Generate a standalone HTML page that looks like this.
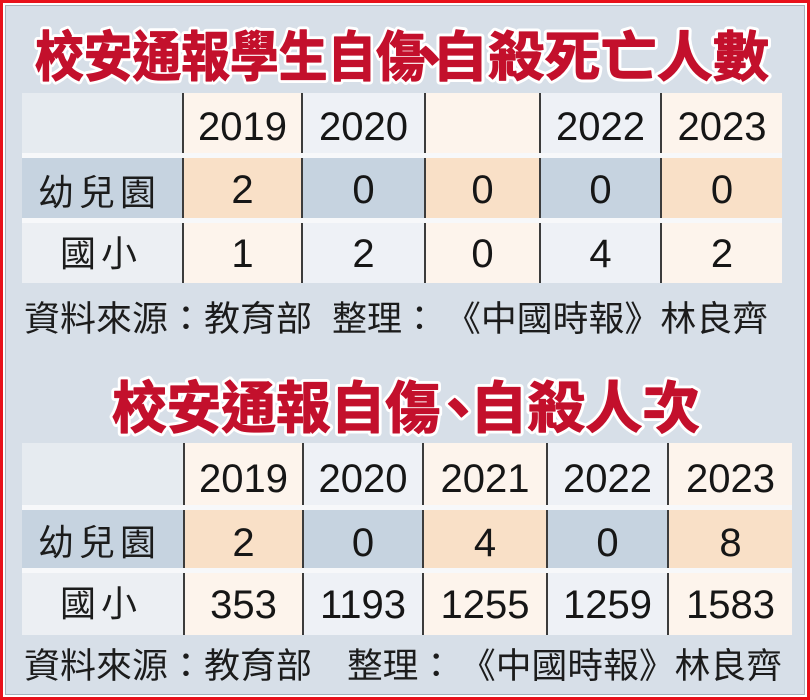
<!DOCTYPE html>
<html>
<head>
<meta charset="utf-8">
<style>
html,body{margin:0;padding:0;background:#fff;}
body{width:810px;height:700px;overflow:hidden;position:relative;}
svg{position:absolute;left:0;top:0;}
.num{font-family:"Liberation Sans",sans-serif;font-size:40px;fill:#161616;text-anchor:middle;}
.lab{font-family:"Noto Sans CJK TC","Noto Sans CJK JP",sans-serif;font-size:36px;fill:#1c1c1c;letter-spacing:5px;}
.foot{font-family:"Noto Sans CJK TC","Noto Sans CJK JP",sans-serif;font-size:35px;fill:#1c1c1c;}
.tw{font-family:"Noto Sans CJK TC","Noto Sans CJK JP",sans-serif;font-weight:700;fill:none;stroke:#ffffff;stroke-width:7;stroke-linejoin:round;}
.tr{font-family:"Noto Sans CJK TC","Noto Sans CJK JP",sans-serif;font-weight:700;fill:#c3102c;stroke:#c3102c;stroke-width:1.2;stroke-linejoin:round;}
</style>
</head>
<body>
<svg width="810" height="700" viewBox="0 0 810 700" xmlns="http://www.w3.org/2000/svg">
  <rect x="0" y="0" width="810" height="700" fill="#e8111b"/>
  <rect x="3" y="3" width="804" height="694" fill="#ffffff"/>
  <rect x="5" y="5" width="800" height="690" fill="#a7b0ba"/>
  <rect x="6" y="6" width="798" height="688" fill="#d7dfe8"/>

  <!-- ===== Title 1 ===== -->
  <g font-size="54">
    <text class="tw" x="35" y="76" textLength="390" lengthAdjust="spacingAndGlyphs">校安通報學生自傷</text>
    <text class="tw" x="429" y="78" text-anchor="middle" font-size="60">、</text>
    <text class="tw" x="432" y="76" textLength="337" lengthAdjust="spacingAndGlyphs">自殺死亡人數</text>
    <text class="tr" x="35" y="76" textLength="390" lengthAdjust="spacingAndGlyphs">校安通報學生自傷</text>
    <text class="tr" x="429" y="78" text-anchor="middle" font-size="60">、</text>
    <text class="tr" x="432" y="76" textLength="337" lengthAdjust="spacingAndGlyphs">自殺死亡人數</text>
  </g>

  <!-- ===== Table 1 ===== -->
  <rect x="22" y="153" width="760" height="5" fill="#f7f8fa"/>
  <rect x="22" y="218" width="760" height="5" fill="#f7f8fa"/>
  <rect x="22" y="93" width="160" height="60" fill="#e6ebf0"/>
  <rect x="184" y="93" width="117" height="60" fill="#fdf4ec"/>
  <rect x="303" y="93" width="121" height="60" fill="#eef1f6"/>
  <rect x="426" y="93" width="113" height="60" fill="#fdf4ec"/>
  <rect x="541" y="93" width="119" height="60" fill="#eef1f6"/>
  <rect x="662" y="93" width="120" height="60" fill="#fdf4ec"/>
  <rect x="22" y="158" width="160" height="60" fill="#c6d3e0"/>
  <rect x="184" y="158" width="117" height="60" fill="#f9e0c7"/>
  <rect x="303" y="158" width="121" height="60" fill="#c6d3e0"/>
  <rect x="426" y="158" width="113" height="60" fill="#f9e0c7"/>
  <rect x="541" y="158" width="119" height="60" fill="#c6d3e0"/>
  <rect x="662" y="158" width="120" height="60" fill="#f9e0c7"/>
  <rect x="22" y="223" width="160" height="60" fill="#eceff3"/>
  <rect x="184" y="223" width="117" height="60" fill="#fdf4ec"/>
  <rect x="303" y="223" width="121" height="60" fill="#eef1f6"/>
  <rect x="426" y="223" width="113" height="60" fill="#fdf4ec"/>
  <rect x="541" y="223" width="119" height="60" fill="#eef1f6"/>
  <rect x="662" y="223" width="120" height="60" fill="#fdf4ec"/>
  <g fill="#3c3c3c">
    <rect x="182" y="93" width="2" height="60"/><rect x="182" y="158" width="2" height="60"/><rect x="182" y="223" width="2" height="60"/>
    <rect x="301" y="93" width="2" height="60"/><rect x="301" y="158" width="2" height="60"/><rect x="301" y="223" width="2" height="60"/>
    <rect x="424" y="93" width="2" height="60"/><rect x="424" y="158" width="2" height="60"/><rect x="424" y="223" width="2" height="60"/>
    <rect x="539" y="93" width="2" height="60"/><rect x="539" y="158" width="2" height="60"/><rect x="539" y="223" width="2" height="60"/>
    <rect x="660" y="93" width="2" height="60"/><rect x="660" y="158" width="2" height="60"/><rect x="660" y="223" width="2" height="60"/>
  </g>
  <text class="num" x="242.5" y="140">2019</text>
  <text class="num" x="363.5" y="140">2020</text>
  <text class="num" x="600.5" y="140">2022</text>
  <text class="num" x="722" y="140">2023</text>
  <text class="lab" x="38" y="205">幼兒園</text>
  <text class="num" x="242.5" y="203">2</text>
  <text class="num" x="363.5" y="203">0</text>
  <text class="num" x="482.5" y="203">0</text>
  <text class="num" x="600.5" y="203">0</text>
  <text class="num" x="722" y="203">0</text>
  <text class="lab" x="60" y="266">國小</text>
  <text class="num" x="242.5" y="267">1</text>
  <text class="num" x="363.5" y="267">2</text>
  <text class="num" x="482.5" y="267">0</text>
  <text class="num" x="600.5" y="267">4</text>
  <text class="num" x="722" y="267">2</text>

  <text class="foot" x="24" y="331" textLength="288" lengthAdjust="spacingAndGlyphs">資料來源：教育部</text>
  <text class="foot" x="332" y="331" textLength="105" lengthAdjust="spacingAndGlyphs">整理：</text>
  <text class="foot" x="445" y="331" textLength="323" lengthAdjust="spacingAndGlyphs">《中國時報》林良齊</text>

  <!-- ===== Title 2 ===== -->
  <g font-size="56">
    <text class="tw" x="112" y="428" textLength="328" lengthAdjust="spacingAndGlyphs">校安通報自傷</text>
    <text class="tw" x="458" y="430" text-anchor="middle" font-size="60">、</text>
    <text class="tw" x="470" y="428" textLength="230" lengthAdjust="spacingAndGlyphs">自殺人次</text>
    <text class="tr" x="112" y="428" textLength="328" lengthAdjust="spacingAndGlyphs">校安通報自傷</text>
    <text class="tr" x="458" y="430" text-anchor="middle" font-size="60">、</text>
    <text class="tr" x="470" y="428" textLength="230" lengthAdjust="spacingAndGlyphs">自殺人次</text>
  </g>

  <!-- ===== Table 2 ===== -->
  <rect x="22" y="505" width="770" height="5" fill="#f7f8fa"/>
  <rect x="22" y="568" width="770" height="5" fill="#f7f8fa"/>
  <rect x="22" y="443" width="161" height="62" fill="#e6ebf0"/>
  <rect x="185" y="443" width="117" height="62" fill="#fdf4ec"/>
  <rect x="304" y="443" width="118" height="62" fill="#eef1f6"/>
  <rect x="424" y="443" width="122" height="62" fill="#fdf4ec"/>
  <rect x="548" y="443" width="119" height="62" fill="#eef1f6"/>
  <rect x="669" y="443" width="123" height="62" fill="#fdf4ec"/>
  <rect x="22" y="510" width="161" height="58" fill="#c6d3e0"/>
  <rect x="185" y="510" width="117" height="58" fill="#f9e0c7"/>
  <rect x="304" y="510" width="118" height="58" fill="#c6d3e0"/>
  <rect x="424" y="510" width="122" height="58" fill="#f9e0c7"/>
  <rect x="548" y="510" width="119" height="58" fill="#c6d3e0"/>
  <rect x="669" y="510" width="123" height="58" fill="#f9e0c7"/>
  <rect x="22" y="573" width="161" height="62" fill="#eceff3"/>
  <rect x="185" y="573" width="117" height="62" fill="#fdf4ec"/>
  <rect x="304" y="573" width="118" height="62" fill="#eef1f6"/>
  <rect x="424" y="573" width="122" height="62" fill="#fdf4ec"/>
  <rect x="548" y="573" width="119" height="62" fill="#eef1f6"/>
  <rect x="669" y="573" width="123" height="62" fill="#fdf4ec"/>
  <g fill="#3c3c3c">
    <rect x="183" y="443" width="2" height="62"/><rect x="183" y="510" width="2" height="58"/><rect x="183" y="573" width="2" height="62"/>
    <rect x="302" y="443" width="2" height="62"/><rect x="302" y="510" width="2" height="58"/><rect x="302" y="573" width="2" height="62"/>
    <rect x="422" y="443" width="2" height="62"/><rect x="422" y="510" width="2" height="58"/><rect x="422" y="573" width="2" height="62"/>
    <rect x="546" y="443" width="2" height="62"/><rect x="546" y="510" width="2" height="58"/><rect x="546" y="573" width="2" height="62"/>
    <rect x="667" y="443" width="2" height="62"/><rect x="667" y="510" width="2" height="58"/><rect x="667" y="573" width="2" height="62"/>
  </g>
  <text class="num" x="243.5" y="492">2019</text>
  <text class="num" x="363" y="492">2020</text>
  <text class="num" x="485" y="492">2021</text>
  <text class="num" x="607.5" y="492">2022</text>
  <text class="num" x="730.5" y="492">2023</text>
  <text class="lab" x="38" y="555">幼兒園</text>
  <text class="num" x="243.5" y="556">2</text>
  <text class="num" x="363" y="556">0</text>
  <text class="num" x="485" y="556">4</text>
  <text class="num" x="607.5" y="556">0</text>
  <text class="num" x="730.5" y="556">8</text>
  <text class="lab" x="60" y="616">國小</text>
  <text class="num" x="243.5" y="618">353</text>
  <text class="num" x="363" y="618">1193</text>
  <text class="num" x="485" y="618">1255</text>
  <text class="num" x="607.5" y="618">1259</text>
  <text class="num" x="730.5" y="618">1583</text>

  <text class="foot" x="24" y="678" textLength="288" lengthAdjust="spacingAndGlyphs">資料來源：教育部</text>
  <text class="foot" x="347" y="678" textLength="107" lengthAdjust="spacingAndGlyphs">整理：</text>
  <text class="foot" x="460" y="678" textLength="322" lengthAdjust="spacingAndGlyphs">《中國時報》林良齊</text>
</svg>
</body>
</html>
